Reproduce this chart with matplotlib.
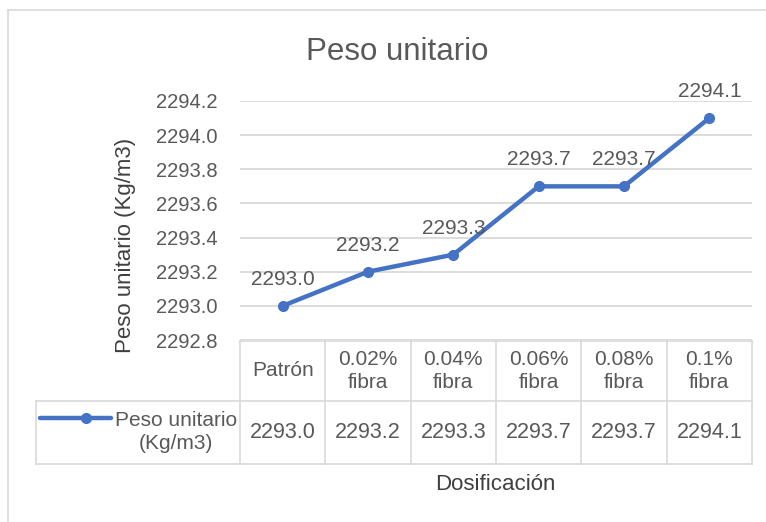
import matplotlib
matplotlib.use("Agg")
import matplotlib.pyplot as plt
from matplotlib.lines import Line2D

plt.rcParams["font.family"] = ["Liberation Sans", "DejaVu Sans"]

categories = ["Patrón", "0.02%\nfibra", "0.04%\nfibra", "0.06%\nfibra", "0.08%\nfibra", "0.1%\nfibra"]
peso = [2293.0, 2293.2, 2293.3, 2293.7, 2293.7, 2294.1]
series_name = "Peso unitario\n(Kg/m3)"
y_ticks = [2292.8, 2293.0, 2293.2, 2293.4, 2293.6, 2293.8, 2294.0, 2294.2]

BLUE = "#4472C4"
TXT = "#595959"
GRID = "#d9d9d9"

W, H = 766, 522
fig = plt.figure(figsize=(W / 100, H / 100), dpi=100)


def fx(px):
    return px / W


def fy(py):
    return 1 - py / H


# chart border (left and top visible)
fig.add_artist(Line2D([fx(8), fx(8)], [fy(10), 0], color=GRID, lw=1.2))
fig.add_artist(Line2D([fx(8), 1], [fy(10), fy(10)], color=GRID, lw=1.2))

ax_l, ax_r, ax_t, ax_b = 240, 752, 101, 340
ax = fig.add_axes([fx(ax_l), fy(ax_b), fx(ax_r - ax_l), fy(ax_t) - fy(ax_b)])
n = len(peso)
x = list(range(n))
ax.plot(x, peso, color=BLUE, lw=3.2, marker="o", ms=7, solid_capstyle="round", zorder=3)
for xi, v in zip(x, peso):
    ax.annotate(f"{v:.1f}", (xi, v), xytext=(0, 19), textcoords="offset points",
                ha="center", va="center", fontsize=15, color=TXT)

ax.set_xlim(-0.5, n - 0.5)
ax.set_ylim(y_ticks[0], y_ticks[-1])
ax.set_yticks(y_ticks)
ax.set_yticklabels([f"{t:.1f}" for t in y_ticks])
ax.set_xticks([])
ax.tick_params(axis="y", length=0, pad=16, labelsize=14.5, labelcolor=TXT)
ax.grid(axis="y", color=GRID, lw=1.3)
ax.set_axisbelow(True)
for s in ax.spines.values():
    s.set_visible(False)
ax.set_facecolor("none")

# data table
t_top, t_mid, t_bot = 341, 401, 464
leg_l = 36
cw = (ax_r - ax_l) / n
lk = dict(color=GRID, lw=1.2)
fig.add_artist(Line2D([fx(ax_l), fx(ax_r)], [fy(t_top)] * 2, **lk))
fig.add_artist(Line2D([fx(leg_l), fx(ax_r)], [fy(t_mid)] * 2, **lk))
fig.add_artist(Line2D([fx(leg_l), fx(ax_r)], [fy(t_bot)] * 2, **lk))
fig.add_artist(Line2D([fx(leg_l), fx(leg_l)], [fy(t_mid), fy(t_bot)], **lk))
for i in range(n + 1):
    xx = ax_l + i * cw
    fig.add_artist(Line2D([fx(xx), fx(xx)], [fy(t_top), fy(t_bot)], **lk))
for i, (c, v) in enumerate(zip(categories, peso)):
    cx = ax_l + (i + 0.5) * cw
    fig.text(fx(cx), fy((t_top + t_mid) / 2), c, ha="center", va="center",
             multialignment="center", fontsize=15, color=TXT, linespacing=1.3)
    fig.text(fx(cx), fy((t_mid + t_bot) / 2), f"{v:.1f}", ha="center", va="center",
             fontsize=15.5, color=TXT)

# legend key inside table
fig.add_artist(Line2D([fx(40), fx(111)], [fy(418)] * 2, color=BLUE, lw=3.2,
                      solid_capstyle="round"))
fig.add_artist(Line2D([fx(86)], [fy(418)], color=BLUE, marker="o", ms=7))
fig.text(fx(176), fy(432), series_name, ha="center", va="center",
         multialignment="center", fontsize=15, color=TXT, linespacing=1.3)

fig.text(fx(397), fy(52), "Peso unitario", ha="center", va="center", fontsize=22.5, color=TXT)
fig.text(fx(125), fy(245), "Peso unitario (Kg/m3)", ha="center", va="center",
         rotation=90, fontsize=16, color="#404040")
fig.text(fx(495), fy(485), "Dosificación", ha="center", va="center", fontsize=16, color="#404040")

fig.savefig("out.png", dpi=100)
